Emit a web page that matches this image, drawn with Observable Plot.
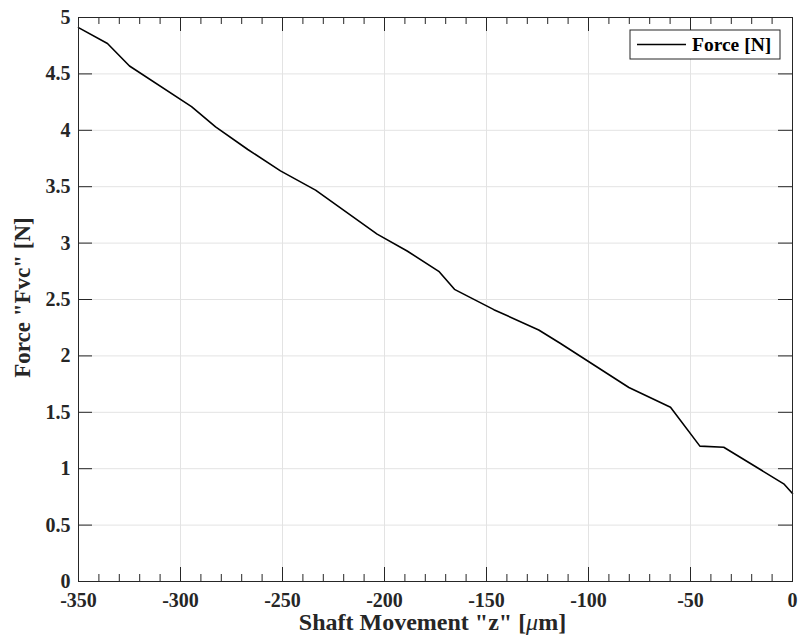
<!DOCTYPE html>
<html><head><meta charset="utf-8">
<script src="https://cdn.jsdelivr.net/npm/d3@7"></script>
<script src="https://cdn.jsdelivr.net/npm/@observablehq/plot@0.6"></script>
<style>body{margin:0;background:#fff} #chart{width:799px;height:643px}</style>
</head><body><div id="chart"></div>
<script>
// Data
const shaftMovement = [-350, -335.8, -325, -294.6, -282.8, -267, -251, -233.8, -203.6, -188.9, -173.4, -165.7, -146.4, -124.4, -113.7, -80.2, -59.8, -45.4, -33.7, -4.3, 0];
const force = [4.91, 4.77, 4.57, 4.21, 4.03, 3.83, 3.64, 3.47, 3.08, 2.93, 2.75, 2.59, 2.41, 2.23, 2.11, 1.72, 1.545, 1.20, 1.19, 0.866, 0.78];
const xMajorTicks = [-350, -300, -250, -200, -150, -100, -50, 0];
const xMinorTicks = [-340, -330, -320, -310, -290, -280, -270, -260, -240, -230, -220, -210, -190, -180, -170, -160, -140, -130, -120, -110, -90, -80, -70, -60, -40, -30, -20, -10];
const yTicks = [0, 0.5, 1, 1.5, 2, 2.5, 3, 3.5, 4, 4.5, 5];
const xLabel = 'Shaft Movement "z" [μm]';
const yLabel = 'Force "Fvc" [N]';
const seriesName = "Force [N]";

const data = shaftMovement.map((x, i) => ({x, y: force[i]}));

const W = 799, H = 643, mL = 78, mR = 7, mT = 17, mB = 62;
const iW = W - mL - mR, iH = H - mT - mB;
const ink = "#262626", gridC = "#e3e3e3";
const font = "Liberation Serif, DejaVu Serif, serif";
const major = 14, minor = 7;

const chart = Plot.plot({
  width: W, height: H,
  marginLeft: mL, marginRight: mR, marginTop: mT, marginBottom: mB,
  style: {fontFamily: font, background: "#fff", color: ink},
  x: {domain: [-350, 0]},
  y: {domain: [0, 5]},
  marks: [
    Plot.gridX(xMajorTicks.slice(1, -1), {stroke: gridC, strokeOpacity: 1}),
    Plot.gridY(yTicks.slice(1, -1), {stroke: gridC, strokeOpacity: 1}),
    // inward ticks (bottom/top/left/right)
    Plot.tickX(xMajorTicks, {x: d => d, insetTop: iH - major, stroke: ink}),
    Plot.tickX(xMajorTicks, {x: d => d, insetBottom: iH - major, stroke: ink}),
    Plot.tickX(xMinorTicks, {x: d => d, insetTop: iH - minor, stroke: ink}),
    Plot.tickX(xMinorTicks, {x: d => d, insetBottom: iH - minor, stroke: ink}),
    Plot.tickY(yTicks, {y: d => d, insetRight: iW - major, stroke: ink}),
    Plot.tickY(yTicks, {y: d => d, insetLeft: iW - major, stroke: ink}),
    Plot.axisX({ticks: xMajorTicks, tickSize: 0, tickPadding: 11, tickFormat: d => String(d), fontSize: 20, fontWeight: "bold", fill: ink, label: null}),
    Plot.axisY({ticks: yTicks, tickSize: 0, tickPadding: 8, tickFormat: d => String(d), fontSize: 20, fontWeight: "bold", fill: ink, label: null}),
    Plot.text([xLabel], {text: d => d, frameAnchor: "bottom", textAnchor: "middle", dy: 41, dx: -3, lineAnchor: "middle", fontSize: 24, fontWeight: "bold", fill: ink}),
    Plot.text([yLabel], {text: d => d, frameAnchor: "left", textAnchor: "middle", rotate: -90, dx: -56, dy: -2, lineAnchor: "middle", fontSize: 23, fontWeight: "bold", fill: ink}),
    Plot.line(data, {x: "x", y: "y", stroke: "#000", strokeWidth: 1.6}),
    Plot.frame({stroke: ink, strokeWidth: 1})
  ]
});

// italic mu in the x label
d3.select(chart).selectAll("text").filter(function () { return this.textContent === xLabel; }).each(function () {
  const t = d3.select(this);
  const parts = xLabel.split("μ");
  t.text(null);
  t.append("tspan").text(parts[0]);
  t.append("tspan").attr("font-style", "italic").attr("font-weight", "normal").text("μ");
  t.append("tspan").text(parts[1]);
});

// legend box inside the plot (top right)
const lg = d3.select(chart).append("g").attr("font-family", font);
const bx = W - mR - 12 - 150, by = mT + 13;
lg.append("rect").attr("x", bx).attr("y", by).attr("width", 150).attr("height", 29).attr("fill", "#fff").attr("stroke", ink).attr("stroke-width", 1);
lg.append("line").attr("x1", bx + 7).attr("x2", bx + 56).attr("y1", by + 14.5).attr("y2", by + 14.5).attr("stroke", "#000").attr("stroke-width", 1.6);
lg.append("text").attr("x", bx + 62).attr("y", by + 21).attr("text-anchor", "start").attr("font-size", 19.5).attr("font-weight", "bold").attr("fill", "#000").text(seriesName);

document.getElementById("chart").append(chart);
</script>
</body></html>
